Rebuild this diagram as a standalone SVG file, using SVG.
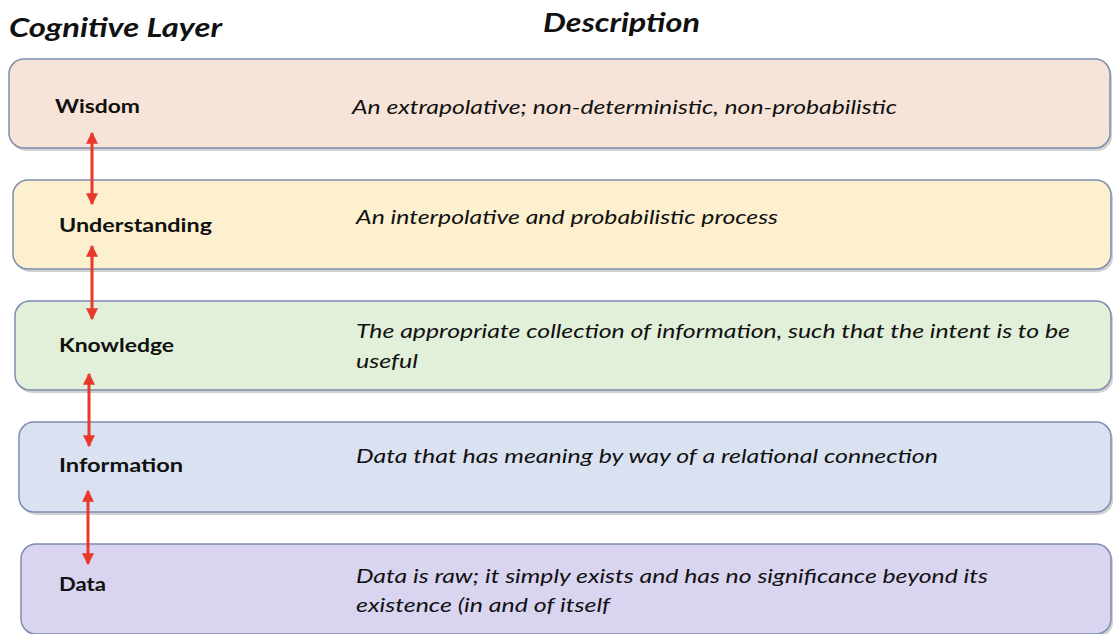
<svg xmlns="http://www.w3.org/2000/svg" width="1113" height="634" viewBox="0 0 1113 634">
<style>
.box{stroke:#7d8db0;stroke-width:1.5}
.sh{fill:#9a9a9a;opacity:0.45}
.hdr{font-family:Lato,"Liberation Sans",sans-serif;font-weight:bold;font-style:italic;font-size:26px;fill:#111}
.lbl{font-family:Lato,"Liberation Sans",sans-serif;font-weight:bold;font-size:19px;fill:#111}
.dsc{font-family:Lato,"Liberation Sans",sans-serif;font-style:italic;font-size:19px;fill:#111}
.con{stroke:#e8392b;stroke-width:3;fill:none}
</style>
<defs>
<marker id="ah" viewBox="0 0 10 10" refX="9" refY="5" markerWidth="4" markerHeight="4" orient="auto-start-reverse" markerUnits="strokeWidth">
<path d="M0,0 L10,5 L0,10 Z" fill="#e8392b"/>
</marker>
</defs>
<rect width="1113" height="634" fill="#ffffff"/>
<text class="hdr" x="9" y="37" textLength="213" lengthAdjust="spacingAndGlyphs">Cognitive Layer</text>
<text class="hdr" x="543" y="32" textLength="157" lengthAdjust="spacingAndGlyphs">Description</text>

<g id="wisdom">
<rect class="sh" x="11" y="62" width="1101" height="89" rx="15"/>
<rect class="box" x="9" y="59" width="1101" height="89" rx="15" fill="#f7e4d8"/>
<text class="lbl" x="55" y="113" textLength="85" lengthAdjust="spacingAndGlyphs">Wisdom</text>
<text class="dsc" x="352" y="114" textLength="545" lengthAdjust="spacingAndGlyphs">An extrapolative; non-deterministic, non-probabilistic</text>
</g>
<g id="understanding">
<rect class="sh" x="15" y="183" width="1098" height="89" rx="15"/>
<rect class="box" x="13" y="180" width="1098" height="89" rx="15" fill="#fcf0cf"/>
<text class="lbl" x="59" y="232" textLength="153" lengthAdjust="spacingAndGlyphs">Understanding</text>
<text class="dsc" x="356" y="224" textLength="422" lengthAdjust="spacingAndGlyphs">An interpolative and probabilistic process</text>
</g>
<g id="knowledge">
<rect class="sh" x="17" y="304" width="1096" height="89" rx="15"/>
<rect class="box" x="15" y="301" width="1096" height="89" rx="15" fill="#e2efd9"/>
<text class="lbl" x="59" y="352" textLength="115" lengthAdjust="spacingAndGlyphs">Knowledge</text>
<text class="dsc" x="356" y="338" textLength="714" lengthAdjust="spacingAndGlyphs">The appropriate collection of information, such that the intent is to be</text>
<text class="dsc" x="356" y="368" textLength="62" lengthAdjust="spacingAndGlyphs">useful</text>
</g>
<g id="information">
<rect class="sh" x="21" y="425" width="1092" height="90" rx="15"/>
<rect class="box" x="19" y="422" width="1092" height="90" rx="15" fill="#dae2f2"/>
<text class="lbl" x="59" y="472" textLength="124" lengthAdjust="spacingAndGlyphs">Information</text>
<text class="dsc" x="356" y="463" textLength="582" lengthAdjust="spacingAndGlyphs">Data that has meaning by way of a relational connection</text>
</g>
<g id="data">
<rect class="sh" x="23" y="547" width="1090" height="90" rx="15"/>
<rect class="box" x="21" y="544" width="1090" height="90" rx="15" fill="#d9d4f0"/>
<text class="lbl" x="59" y="591" textLength="47" lengthAdjust="spacingAndGlyphs">Data</text>
<text class="dsc" x="356" y="583" textLength="632" lengthAdjust="spacingAndGlyphs">Data is raw; it simply exists and has no significance beyond its</text>
<text class="dsc" x="356" y="612" textLength="254" lengthAdjust="spacingAndGlyphs">existence (in and of itself</text>
</g>

<g id="connectors">
<line class="con" x1="92" y1="133" x2="92" y2="204" marker-start="url(#ah)" marker-end="url(#ah)"/>
<line class="con" x1="92" y1="246" x2="92" y2="319" marker-start="url(#ah)" marker-end="url(#ah)"/>
<line class="con" x1="89" y1="374" x2="89" y2="446" marker-start="url(#ah)" marker-end="url(#ah)"/>
<line class="con" x1="88" y1="491" x2="88" y2="564" marker-start="url(#ah)" marker-end="url(#ah)"/>
</g>
</svg>
